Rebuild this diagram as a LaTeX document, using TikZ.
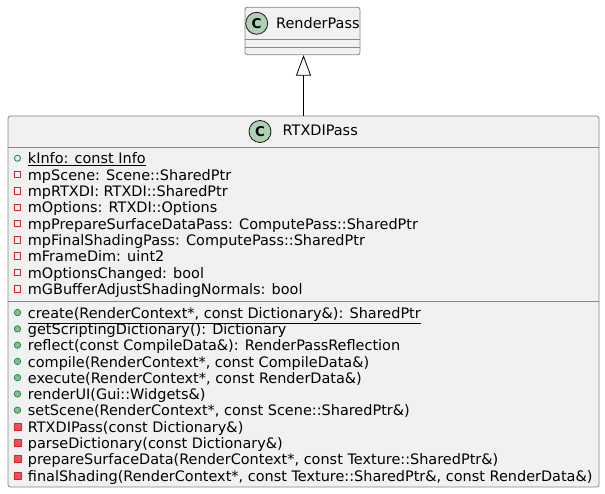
\documentclass[tikz,border=0pt]{standalone}
\usepackage{fontspec}
\setmainfont{DejaVu Sans}
\usetikzlibrary{arrows.meta}
\definecolor{boxfill}{HTML}{F1F1F1}
\definecolor{boxline}{HTML}{888888}
\definecolor{iconfill}{HTML}{ADD1B2}
\definecolor{pubgreen}{HTML}{038048}
\definecolor{pubfill}{HTML}{84BE84}
\definecolor{privred}{HTML}{C82930}
\definecolor{privfill}{HTML}{F24D5C}
\tikzset{
  classbox/.style={draw=boxline, fill=boxfill, rounded corners=2.5pt, line width=0.8pt, inner sep=0pt},
  classicon/.style={circle, draw=black!90, fill=iconfill, line width=0.8pt, minimum size=22pt, inner sep=0pt, font=\fontsize{13.5}{13.5}\selectfont\bfseries},
  member/.style={anchor=base west, inner sep=0pt, font=\fontsize{14.45}{16}\selectfont},
  pubfield/.style={circle, draw=pubgreen, line width=0.8pt, minimum size=6pt, inner sep=0pt},
  privfield/.style={rectangle, draw=privred, line width=0.8pt, minimum size=6.5pt, inner sep=0pt},
  pubmethod/.style={circle, draw=pubgreen, fill=pubfill, line width=0.6pt, minimum size=6.5pt, inner sep=0pt},
  privmethod/.style={rectangle, draw=privred, fill=privfill, line width=0.6pt, minimum size=7pt, inner sep=0pt}
}
\begin{document}
\begin{tikzpicture}[line cap=round,line join=round,x=1pt,y=-1pt,
  >={Triangle[length=20.5pt,width=15pt,fill=white]}]
\useasboundingbox (0,0) rectangle (605,494);
% parent class
\node [classbox, minimum width=115, minimum height=47.5] (renderPass) at (302.5,31) {};
\draw [boxline, line width=0.8pt] (245,39.3)--(360,39.3);
\draw [boxline, line width=0.8pt] (245,47.5)--(360,47.5);
\node [classicon] (rpIcon) at (256.7,23.3) {C};
\node [member] (rpName) at (276,28.3) {RenderPass};
% derived class
\node [classbox, minimum width=591, minimum height=371] (rtxdiPass) at (303.5,301.5) {};
\draw [boxline, line width=0.8pt] (8,147)--(599,147);
\draw [boxline, line width=0.8pt] (8,301.5)--(599,301.5);
\node [classicon] (rtIcon) at (260,131.5) {C};
\node [member] (rtName) at (282.5,136) {RTXDIPass};
% fields
\foreach \kind/\txt [count=\i] in {
  pubfield/{\underline{kInfo: const Info}},
  privfield/{mpScene: Scene::SharedPtr},
  privfield/{mpRTXDI: RTXDI::SharedPtr},
  privfield/{mOptions: RTXDI::Options},
  privfield/{mpPrepareSurfaceDataPass: ComputePass::SharedPtr},
  privfield/{mpFinalShadingPass: ComputePass::SharedPtr},
  privfield/{mFrameDim: uint2},
  privfield/{mOptionsChanged: bool},
  privfield/{mGBufferAdjustShadingNormals: bool}}
{
  \node [\kind] (fIcon\i) at (17.5,{164+(\i-1)*16.3-5.7}) {};
  \node [member] (field\i) at (27.7,{164+(\i-1)*16.3}) {\txt};
}
% methods
\foreach \kind/\txt [count=\i] in {
  pubmethod/{\underline{create(RenderContext*, const Dictionary\&): SharedPtr}},
  pubmethod/{getScriptingDictionary(): Dictionary},
  pubmethod/{reflect(const CompileData\&): RenderPassReflection},
  pubmethod/{compile(RenderContext*, const CompileData\&)},
  pubmethod/{execute(RenderContext*, const RenderData\&)},
  pubmethod/{renderUI(Gui::Widgets\&)},
  pubmethod/{setScene(RenderContext*, const Scene::SharedPtr\&)},
  privmethod/{RTXDIPass(const Dictionary\&)},
  privmethod/{parseDictionary(const Dictionary\&)},
  privmethod/{prepareSurfaceData(RenderContext*, const Texture::SharedPtr\&)},
  privmethod/{finalShading(RenderContext*, const Texture::SharedPtr\&, const RenderData\&)}}
{
  \node [\kind] (mIcon\i) at (17.5,{318.3+(\i-1)*16.27-5.7}) {};
  \node [member] (method\i) at (27.7,{318.3+(\i-1)*16.27}) {\txt};
}
% inheritance
\draw [->, line width=0.8pt] (rtxdiPass.north) -- (rtxdiPass.north |- renderPass.south);
\end{tikzpicture}
\end{document}
